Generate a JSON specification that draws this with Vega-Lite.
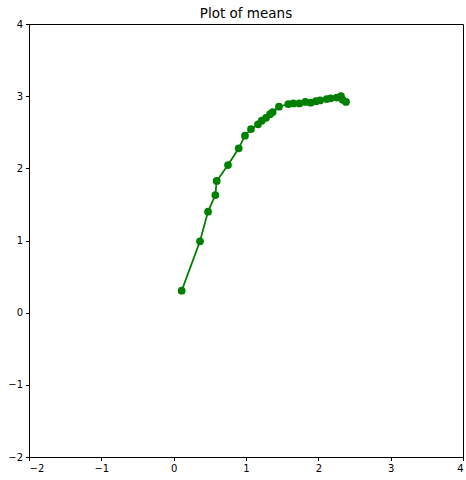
{
  "$schema": "https://vega.github.io/schema/vega-lite/v6.json",
  "width": 434,
  "height": 433,
  "autosize": {"type": "none"},
  "padding": {"left": 29, "top": 24, "right": 3, "bottom": 23},
  "background": "white",
  "config": {
    "font": "DejaVu Sans",
    "view": {"stroke": "black", "strokeWidth": 1},
    "axis": {
      "grid": false,
      "domainColor": "black",
      "tickColor": "black",
      "tickSize": 3.5,
      "labelColor": "black",
      "labelFontSize": 10,
      "labelFont": "DejaVu Sans",
      "labelPadding": 3,
      "title": null
    }
  },
  "title": {
    "text": "Plot of means",
    "fontSize": 13.5,
    "font": "DejaVu Sans",
    "fontWeight": "normal",
    "color": "black",
    "offset": -1
  },
  "data": {
    "values": [
      {"i": 1, "x": 0.111, "y": 0.305},
      {"i": 2, "x": 0.364, "y": 0.989},
      {"i": 3, "x": 0.475, "y": 1.40},
      {"i": 4, "x": 0.576, "y": 1.63},
      {"i": 5, "x": 0.595, "y": 1.825},
      {"i": 6, "x": 0.751, "y": 2.046},
      {"i": 7, "x": 0.899, "y": 2.277},
      {"i": 8, "x": 0.986, "y": 2.453},
      {"i": 9, "x": 1.069, "y": 2.545},
      {"i": 10, "x": 1.166, "y": 2.61},
      {"i": 11, "x": 1.217, "y": 2.66},
      {"i": 12, "x": 1.277, "y": 2.70},
      {"i": 13, "x": 1.332, "y": 2.75},
      {"i": 14, "x": 1.369, "y": 2.78},
      {"i": 15, "x": 1.456, "y": 2.854},
      {"i": 16, "x": 1.585, "y": 2.891},
      {"i": 17, "x": 1.655, "y": 2.90},
      {"i": 18, "x": 1.738, "y": 2.90},
      {"i": 19, "x": 1.82, "y": 2.92},
      {"i": 20, "x": 1.894, "y": 2.91},
      {"i": 21, "x": 1.968, "y": 2.93},
      {"i": 22, "x": 2.023, "y": 2.94},
      {"i": 23, "x": 2.116, "y": 2.96},
      {"i": 24, "x": 2.171, "y": 2.97},
      {"i": 25, "x": 2.254, "y": 2.98},
      {"i": 26, "x": 2.313, "y": 3.0},
      {"i": 27, "x": 2.337, "y": 2.95},
      {"i": 28, "x": 2.383, "y": 2.92}
    ]
  },
  "encoding": {
    "x": {
      "field": "x",
      "type": "quantitative",
      "scale": {"domain": [-2, 4], "nice": false, "zero": false},
      "axis": {"values": [-2, -1, 0, 1, 2, 3, 4], "format": "d", "labelExpr": "replace(datum.label, '-', '\u2212')"}
    },
    "y": {
      "field": "y",
      "type": "quantitative",
      "scale": {"domain": [-2, 4], "nice": false, "zero": false},
      "axis": {"values": [-2, -1, 0, 1, 2, 3, 4], "format": "d", "labelExpr": "replace(datum.label, '-', '\u2212')"}
    },
    "order": {"field": "i", "type": "quantitative"}
  },
  "layer": [
    {"mark": {"type": "line", "color": "#008000", "strokeWidth": 1.8}},
    {"mark": {"type": "circle", "color": "#008000", "opacity": 1, "size": 60}}
  ]
}
